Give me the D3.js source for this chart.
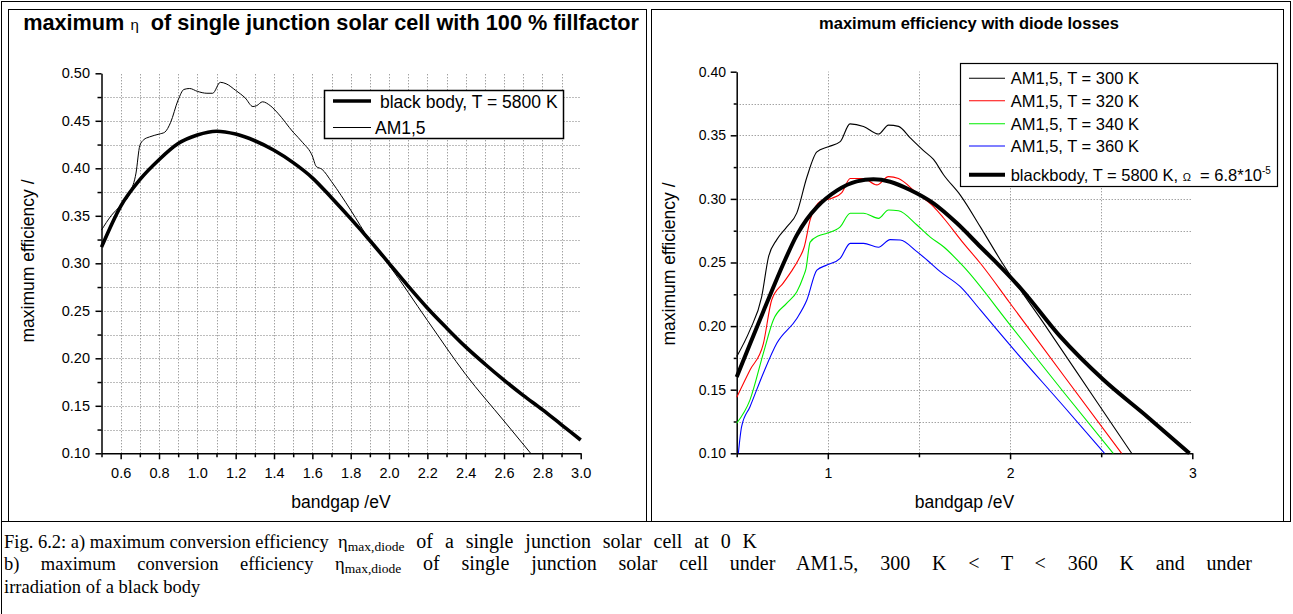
<!DOCTYPE html>
<html><head><meta charset="utf-8">
<script src="https://cdn.jsdelivr.net/npm/d3@7"></script>
<style>body{margin:0;background:#fff;} svg{display:block;}</style>
</head><body>
<svg id="c" width="1293" height="614"></svg>
<script>
// ---------- Data: panel a ----------
const leftTitleA = "maximum ";
const leftTitleEta = "\u03b7";
const leftTitleB = "  of single junction solar cell with 100 % fillfactor";
const leftXTicks = [0.6,0.8,1.0,1.2,1.4,1.6,1.8,2.0,2.2,2.4,2.6,2.8,3.0];
const leftYTicks = [0.10,0.15,0.20,0.25,0.30,0.35,0.40,0.45,0.50];
const leftLegend = ["black body, T = 5800 K", "AM1,5"];
const leftBBEnergy = [0.5,0.6,0.7,0.8,0.9,1.0,1.1,1.2,1.3,1.4,1.5,1.6,1.7,1.8,1.9,2.0,2.1,2.2,2.3,2.4,2.5,2.6,2.7,2.8,2.9,3.0];
const leftBBEff    = [0.317,0.360,0.388,0.409,0.426,0.435,0.439,0.436,0.429,0.419,0.406,0.390,0.369,0.347,0.324,0.300,0.276,0.253,0.232,0.212,0.194,0.177,0.161,0.146,0.130,0.114];
const leftAMEnergy = [0.5,0.55,0.6,0.65,0.68,0.7,0.72,0.75,0.8,0.83,0.86,0.9,0.93,0.96,1.0,1.05,1.08,1.12,1.15,1.2,1.25,1.29,1.31,1.34,1.38,1.42,1.5,1.55,1.6,1.62,1.65,1.7,1.8,1.9,2.0,2.2,2.4,2.6,2.739];
const leftAMEff    = [0.335,0.350,0.361,0.375,0.395,0.424,0.430,0.433,0.436,0.438,0.448,0.472,0.483,0.484,0.481,0.479,0.479,0.4905,0.489,0.482,0.474,0.465,0.466,0.470,0.466,0.458,0.438,0.427,0.413,0.402,0.399,0.386,0.356,0.324,0.298,0.240,0.183,0.134,0.100];

// ---------- Data: panel b ----------
const rightTitle = "maximum efficiency with diode losses";
const rightXTicks = [1,2,3];
const rightYTicks = [0.10,0.15,0.20,0.25,0.30,0.35,0.40];
const rightLegend = ["AM1,5, T = 300 K","AM1,5, T = 320 K","AM1,5, T = 340 K","AM1,5, T = 360 K"];
const rightLegendBB = ["blackbody, T = 5800 K, ", "\u03a9", "  = 6.8*10", "-5"];
const r300E = [0.5,0.573,0.637,0.674,0.72,0.775,0.83,0.885,0.94,1.003,1.068,1.122,1.196,1.278,1.333,1.388,1.452,1.525,1.58,1.635,1.727,1.837,1.947,2.2,2.45,2.667];
const r300V = [0.176,0.197,0.223,0.254,0.268,0.278,0.289,0.317,0.337,0.341,0.345,0.359,0.357,0.351,0.358,0.357,0.348,0.338,0.331,0.319,0.303,0.278,0.252,0.199,0.146,0.100];
const r320E = [0.5,0.573,0.646,0.692,0.756,0.80,0.838,0.87,0.903,0.958,1.022,1.077,1.123,1.196,1.269,1.333,1.388,1.489,1.58,1.635,1.745,1.837,2.0,2.3,2.612];
const r320V = [0.144,0.1655,0.186,0.2205,0.234,0.243,0.252,0.262,0.2835,0.298,0.3005,0.305,0.316,0.316,0.311,0.3175,0.316,0.3044,0.294,0.285,0.265,0.2494,0.218,0.160,0.100];
const r340E = [0.5,0.573,0.646,0.701,0.775,0.83,0.866,0.88,0.903,0.95,0.995,1.068,1.123,1.196,1.278,1.333,1.388,1.489,1.562,1.635,1.745,2.0,2.3,2.566];
const r340V = [0.1236,0.142,0.1786,0.2048,0.218,0.227,0.239,0.245,0.266,0.271,0.273,0.278,0.2887,0.2887,0.2847,0.2913,0.2907,0.2795,0.270,0.2624,0.2467,0.201,0.147,0.100];
const r360E = [0.509,0.527,0.573,0.646,0.72,0.83,0.885,0.94,0.995,1.068,1.123,1.196,1.278,1.342,1.397,1.489,1.544,1.617,1.727,1.837,2.0,2.3,2.518];
const r360V = [0.100,0.121,0.1366,0.163,0.1865,0.206,0.2205,0.244,0.248,0.2533,0.265,0.265,0.262,0.268,0.2677,0.2585,0.252,0.2428,0.231,0.2127,0.185,0.136,0.100];
const rBBE = [0.5,0.573,0.646,0.701,0.756,0.83,0.885,0.94,1.049,1.159,1.25,1.342,1.452,1.58,1.709,1.837,1.91,2.066,2.276,2.514,2.753,2.985];
const rBBV = [0.160,0.186,0.2115,0.2305,0.249,0.2715,0.284,0.2935,0.3065,0.3138,0.3154,0.3135,0.307,0.2965,0.2808,0.2624,0.252,0.2284,0.1917,0.1576,0.1288,0.100];
const rightColors = ["#000000","#ff0000","#00ee00","#0000ff"];

// ---------- Caption ----------
const caption1a = "Fig. 6.2: a) maximum conversion efficiency  \u03b7";
const caption1b = " of a single junction solar cell at 0 K";
const caption2a = "b) maximum conversion efficiency \u03b7";
const caption2b = " of single junction solar cell under AM1.5, 300 K < T < 360 K and under";
const caption3 = "irradiation of a black body";
const captionSub = "max,diode";

// ---------- Drawing ----------
const svg = d3.select("#c");
const SANS = "'Liberation Sans', Arial, sans-serif";
const SERIF = "'Liberation Serif', 'Times New Roman', serif";

const fr = svg.append("g").attr("fill","none").attr("stroke","#000").attr("stroke-width",1);
fr.append("line").attr("x1",1).attr("x2",1291).attr("y1",1.5).attr("y2",1.5);
fr.append("line").attr("x1",1.5).attr("x2",1.5).attr("y1",1).attr("y2",614);
fr.append("line").attr("x1",1290.5).attr("x2",1290.5).attr("y1",1).attr("y2",522);
fr.append("line").attr("x1",1).attr("x2",1291).attr("y1",521.5).attr("y2",521.5);
fr.append("rect").attr("x",8.5).attr("y",9.5).attr("width",638).attr("height",512);
fr.append("rect").attr("x",651.5).attr("y",9.5).attr("width",632).attr("height",512);

function grid(g, x, y, xs, ys) {
  const gg = g.append("g").attr("stroke","#7a7a7a").attr("stroke-width",1).attr("stroke-dasharray","1,2");
  const [x0,x1] = x.range(), [y0,y1] = y.range();
  xs.forEach(v => gg.append("line").attr("x1",Math.round(x(v))+0.5).attr("x2",Math.round(x(v))+0.5).attr("y1",y0).attr("y2",y1));
  ys.forEach(v => gg.append("line").attr("y1",Math.round(y(v))+0.5).attr("y2",Math.round(y(v))+0.5).attr("x1",x0).attr("x2",x1));
}

function axes(g, x, y, o) {
  const [y0] = y.range(), [x0] = x.range();
  g.append("g").attr("transform",`translate(0,${y0})`)
    .call(d3.axisBottom(x).tickValues(o.xMinor).tickSize(4).tickSizeOuter(0).tickFormat(""))
    .call(s=>s.select(".domain").remove()).selectAll("line").attr("stroke-width",1.5);
  g.append("g").attr("transform",`translate(${x0},0)`)
    .call(d3.axisLeft(y).tickValues(o.yMinor).tickSize(o.yMinorLen).tickSizeOuter(0).tickFormat(""))
    .call(s=>s.select(".domain").remove()).selectAll("line").attr("stroke-width",1.5);
  const ax = g.append("g").attr("transform",`translate(0,${y0})`)
    .call(d3.axisBottom(x).tickValues(o.xTicks).tickSize(6).tickSizeOuter(0).tickPadding(o.xPad).tickFormat(o.xFmt));
  const ay = g.append("g").attr("transform",`translate(${x0},0)`)
    .call(d3.axisLeft(y).tickValues(o.yTicks).tickSize(6).tickSizeOuter(0).tickPadding(o.yPad).tickFormat(d3.format(".2f")));
  [ax,ay].forEach(a => {
    a.select(".domain").attr("stroke-width",1.5);
    a.selectAll("line").attr("stroke-width",1.5);
    a.selectAll("text").attr("font-family",SANS).attr("font-size",o.fs).attr("fill","#000");
  });
}

function curve(g, x, y, E, V, color, w) {
  const line = d3.line().x(d=>x(d[0])).y(d=>y(d[1])).curve(d3.curveMonotoneX);
  g.append("path").datum(d3.zip(E,V)).attr("d",line).attr("fill","none")
    .attr("stroke",color).attr("stroke-width",w).attr("stroke-linejoin","round");
}

// ===== Panel a =====
const gA = svg.append("g");
const xA = d3.scaleLinear().domain([0.5,3.0]).range([101.5,580.7]);
const yA = d3.scaleLinear().domain([0.10,0.50]).range([453.3,73.3]);
grid(gA, xA, yA, d3.range(6,30).map(d=>d/10), d3.range(1,16).map(d=>0.10+d*0.025));
axes(gA, xA, yA, {xTicks:leftXTicks, yTicks:leftYTicks, xMinor:d3.range(5,30,2).map(d=>d/10),
  yMinor:d3.range(0,8).map(d=>0.125+d*0.05), yMinorLen:4, xPad:8.5, yPad:5.5, fs:14.5, xFmt:d3.format(".1f")});
curve(gA, xA, yA, leftAMEnergy, leftAMEff, "#000", 1);
curve(gA, xA, yA, leftBBEnergy, leftBBEff, "#000", 3.6);

const tA = gA.append("text").attr("x",331).attr("y",30).attr("text-anchor","middle")
  .attr("font-family",SANS).attr("font-weight","bold").attr("font-size",21.7).attr("xml:space","preserve");
tA.append("tspan").text(leftTitleA);
tA.append("tspan").attr("font-weight","normal").attr("font-size",15).text(leftTitleEta);
tA.append("tspan").text(leftTitleB);

gA.append("text").attr("x",341).attr("y",508).attr("text-anchor","middle")
  .attr("font-family",SANS).attr("font-size",17.5).text("bandgap /eV");
gA.append("text").attr("transform","translate(33.6,261) rotate(-90)").attr("text-anchor","middle")
  .attr("font-family",SANS).attr("font-size",17.5).text("maximum efficiency /");

const lA = gA.append("g");
lA.append("rect").attr("x",324.5).attr("y",90.5).attr("width",239).attr("height",48)
  .attr("fill","#fff").attr("stroke","#000").attr("stroke-width",1.5);
const lAy = [101, 127.5], lAw = [3.6, 1], lAtx = [380, 375];
leftLegend.forEach((t,i) => {
  lA.append("line").attr("x1",333).attr("x2",371).attr("y1",lAy[i]).attr("y2",lAy[i])
    .attr("stroke","#000").attr("stroke-width",lAw[i]);
  lA.append("text").attr("x",lAtx[i]).attr("y",lAy[i]+6.5).attr("font-family",SANS)
    .attr("font-size",17.5).text(t);
});

// ===== Panel b =====
const gB = svg.append("g");
const xB = d3.scaleLinear().domain([0.5,3.0]).range([736.7,1192.3]);
const yB = d3.scaleLinear().domain([0.10,0.40]).range([453.3,71.7]);
grid(gB, xB, yB, [1,1.5,2,2.5], d3.range(1,12).map(d=>0.10+d*0.025));
axes(gB, xB, yB, {xTicks:rightXTicks, yTicks:rightYTicks, xMinor:[0.5,1.5,2.5],
  yMinor:d3.range(0,6).map(d=>0.125+d*0.05), yMinorLen:3, xPad:8.5, yPad:4.7, fs:14, xFmt:d3.format("d")});
[[r300E,r300V],[r320E,r320V],[r340E,r340V],[r360E,r360V]].forEach((s,i) =>
  curve(gB, xB, yB, s[0], s[1], rightColors[i], 1.1));
curve(gB, xB, yB, rBBE, rBBV, "#000", 4);

gB.append("text").attr("x",969).attr("y",29).attr("text-anchor","middle")
  .attr("font-family",SANS).attr("font-weight","bold").attr("font-size",16.5).text(rightTitle);
gB.append("text").attr("x",964.5).attr("y",508).attr("text-anchor","middle")
  .attr("font-family",SANS).attr("font-size",17.5).text("bandgap /eV");
gB.append("text").attr("transform","translate(674.6,264) rotate(-90)").attr("text-anchor","middle")
  .attr("font-family",SANS).attr("font-size",17.5).text("maximum efficiency /");

const lB = gB.append("g");
lB.append("rect").attr("x",960.5).attr("y",63.5).attr("width",317).attr("height",123)
  .attr("fill","#fff").attr("stroke","#000").attr("stroke-width",1.2);
const lBy = [78.3, 100.7, 123.7, 146];
rightLegend.forEach((t,i) => {
  lB.append("line").attr("x1",969).attr("x2",1005).attr("y1",lBy[i]).attr("y2",lBy[i])
    .attr("stroke",rightColors[i]).attr("stroke-width",1.1);
  lB.append("text").attr("x",1010.7).attr("y",lBy[i]+6).attr("font-family",SANS)
    .attr("font-size",16.5).text(t);
});
lB.append("line").attr("x1",969).attr("x2",1005).attr("y1",174.7).attr("y2",174.7)
  .attr("stroke","#000").attr("stroke-width",4);
const tb = lB.append("text").attr("x",1010.7).attr("y",180.7).attr("font-family",SANS)
  .attr("font-size",16.5).attr("xml:space","preserve");
tb.append("tspan").text(rightLegendBB[0]);
tb.append("tspan").attr("font-size",11).text(rightLegendBB[1]);
tb.append("tspan").text(rightLegendBB[2]);
tb.append("tspan").attr("font-size",10).attr("dy",-7).text(rightLegendBB[3]);

// ===== Caption =====
const cap = svg.append("g").attr("font-family",SERIF).attr("font-size",18.5).attr("fill","#000");
const c1 = cap.append("text").attr("x",4).attr("y",547.5).attr("xml:space","preserve");
c1.append("tspan").text(caption1a);
c1.append("tspan").attr("font-size",13.5).attr("dy",3).text(captionSub);
const c1b = c1.append("tspan").attr("dy",-3).attr("font-size",20).text(caption1b);
{
  const n = caption1b.match(/ /g).length;
  const w = c1.node().getComputedTextLength();
  c1b.style("word-spacing", Math.max(0, (757 - 4 - w) / n) + "px");
}
const c2 = cap.append("text").attr("x",4).attr("y",570).attr("xml:space","preserve");
c2.append("tspan").text(caption2a);
c2.append("tspan").attr("font-size",13.5).attr("dy",3).text(captionSub);
c2.append("tspan").attr("dy",-3).attr("font-size",20).text(caption2b);
{
  const n = (caption2a + caption2b).match(/ /g).length;
  const w = c2.node().getComputedTextLength();
  c2.style("word-spacing", Math.max(0, (1252 - 4 - w) / n) + "px");
}
cap.append("text").attr("x",4).attr("y",592.5).text(caption3);
</script>
</body></html>
